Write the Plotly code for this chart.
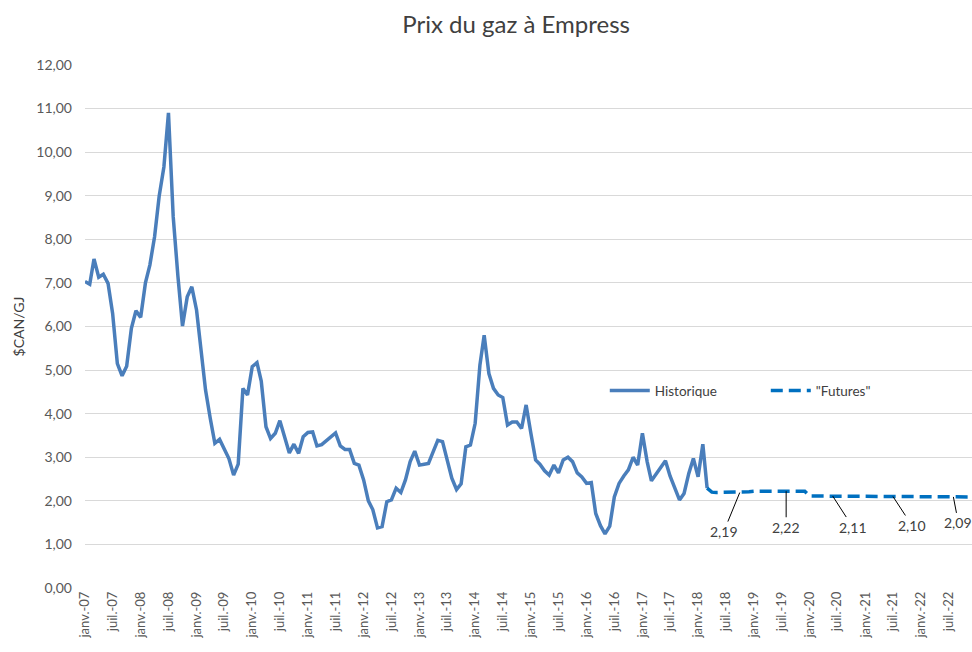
import pandas as pd
import plotly.graph_objects as go

# monthly Empress gas price, $CAN/GJ
hist_start = "2007-01-01"
historique = [
    7.03, 6.97, 7.55, 7.13, 7.20, 6.99, 6.30, 5.15, 4.87, 5.09, 5.96, 6.36,  # 2007
    6.21, 7.00, 7.41, 8.06, 8.99, 9.66, 10.90, 8.52, 7.15, 6.01, 6.68, 6.91,  # 2008
    6.38, 5.46, 4.54, 3.89, 3.32, 3.41, 3.20, 2.97, 2.59, 2.84, 4.58, 4.43,  # 2009
    5.08, 5.17, 4.75, 3.70, 3.43, 3.55, 3.84, 3.47, 3.10, 3.30, 3.09, 3.47,  # 2010
    3.57, 3.58, 3.26, 3.29, 3.38, 3.49, 3.56, 3.26, 3.18, 3.18, 2.86, 2.82,  # 2011
    2.48, 2.00, 1.80, 1.38, 1.41, 1.98, 2.02, 2.29, 2.19, 2.48, 2.90, 3.14,  # 2012
    2.82, 2.84, 2.86, 3.13, 3.39, 3.36, 2.94, 2.52, 2.26, 2.39, 3.24, 3.28,  # 2013
    3.78, 5.11, 5.80, 4.92, 4.58, 4.43, 4.37, 3.74, 3.81, 3.81, 3.66, 4.20,  # 2014
    3.55, 2.94, 2.84, 2.69, 2.59, 2.82, 2.64, 2.94, 3.00, 2.90, 2.64, 2.55,  # 2015
    2.40, 2.42, 1.71, 1.43, 1.24, 1.42, 2.09, 2.40, 2.57, 2.71, 3.00, 2.82,  # 2016
    3.55, 2.90, 2.46, 2.61, 2.78, 2.92, 2.57, 2.32, 2.02, 2.17, 2.63, 2.97,  # 2017
    2.55, 3.30, 2.29,  # 2018
]

# futures strip, starts on the last historical month so the line joins
fut_start = "2018-03-01"
futures = [
    2.29, 2.20, 2.19, 2.19, 2.19, 2.19, 2.19, 2.19, 2.20, 2.21,  # 2018
    2.22, 2.22, 2.22, 2.22, 2.22, 2.22, 2.22, 2.22, 2.22, 2.22, 2.22, 2.22,  # 2019
    2.11, 2.11, 2.11, 2.11, 2.11, 2.11, 2.11, 2.11, 2.11, 2.11, 2.11, 2.11,  # 2020
    2.10, 2.10, 2.10, 2.10, 2.10, 2.10, 2.10, 2.10, 2.10, 2.10, 2.10, 2.10,  # 2021
    2.09, 2.09, 2.09, 2.09, 2.09, 2.09, 2.09, 2.09, 2.09, 2.09, 2.09, 2.09,  # 2022
]

# labelled futures points: date, label offset (px)
labels = [("2018-10-01", -16, 39), ("2019-08-01", 0, 36), ("2020-06-01", 20, 31),
          ("2021-07-01", 19, 29), ("2022-08-01", 5, 26)]

hist_dates = pd.date_range(hist_start, periods=len(historique), freq="MS")
fut_dates = pd.date_range(fut_start, periods=len(futures), freq="MS")

tick_dates = pd.date_range("2007-01-01", "2022-07-01", freq="6MS")
tick_text = [("janv.-" if d.month == 1 else "juil.-") + d.strftime("%y") for d in tick_dates]

font = "Lato, 'Open Sans', sans-serif"

fig = go.Figure()
fig.add_trace(go.Scatter(x=hist_dates, y=historique, mode="lines", name="Historique",
                         line=dict(color="#4a7ebb", width=3.5)))
fig.add_trace(go.Scatter(x=fut_dates, y=futures, mode="lines", name='"Futures"',
                         line=dict(color="#0070c0", width=3.5, dash="12px,6px")))

fut = pd.Series(futures, index=fut_dates)
for d, ax, ay in labels:
    v = fut[pd.Timestamp(d)]
    fig.add_annotation(x=d, y=v, text=f"{v:.2f}".replace(".", ","), showarrow=True,
                       arrowhead=0, arrowwidth=1, arrowcolor="#000000", ax=ax, ay=ay,
                       font=dict(size=14, color="#404040"))

fig.update_layout(
    width=972, height=652,
    margin=dict(l=85, r=0, t=65, b=64),
    paper_bgcolor="white", plot_bgcolor="white",
    font=dict(family=font, color="#595959", size=13),
    title=dict(text="Prix du gaz à Empress", x=0.531, xanchor="center", y=0.962, yanchor="middle",
               font=dict(size=24, color="#404040")),
    separators=", ",
    legend=dict(orientation="h", x=0.586, y=0.377, xanchor="left", yanchor="middle",
                bgcolor="rgba(0,0,0,0)", font=dict(size=13.5, color="#404040"),
                itemwidth=40, traceorder="normal", entrywidth=106),
    showlegend=True,
)
fig.update_xaxes(range=[pd.Timestamp("2007-01-01"), pd.Timestamp("2022-12-01")],
                 tickvals=tick_dates, ticktext=tick_text, tickangle=-90,
                 showgrid=False, showline=False, zeroline=False, automargin=False,
                 tickfont=dict(size=13, color="#595959"))
fig.update_yaxes(range=[0, 12], dtick=1, tickformat=".2f", showgrid=True,
                 gridcolor="#d9d9d9", gridwidth=1, zeroline=False, showline=False,
                 ticklabelstandoff=12, automargin=False,
                 title=dict(text="$CAN/GJ", standoff=8, font=dict(size=14, color="#404040")),
                 tickfont=dict(size=14, color="#595959"))

# drop the default page margin so the 972x652 figure fills the window
fig.write_html("out.html", config={"displayModeBar": False},
               post_script="document.body.style.margin='0';document.body.style.overflow='hidden';")
